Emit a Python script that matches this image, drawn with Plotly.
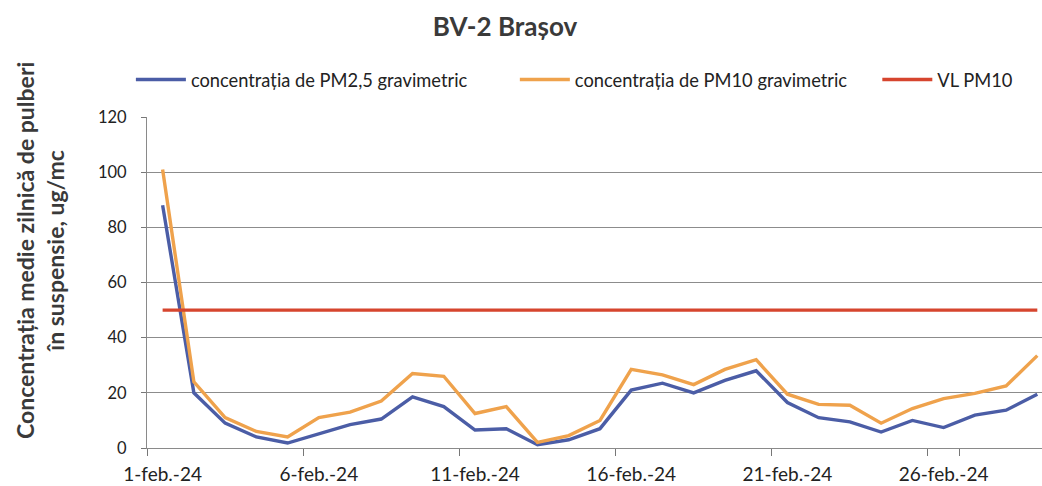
import plotly.graph_objects as go

days = ["1-feb.-24", "2-feb.-24", "3-feb.-24", "4-feb.-24", "5-feb.-24", "6-feb.-24",
        "7-feb.-24", "8-feb.-24", "9-feb.-24", "10-feb.-24", "11-feb.-24", "12-feb.-24",
        "13-feb.-24", "14-feb.-24", "15-feb.-24", "16-feb.-24", "17-feb.-24", "18-feb.-24",
        "19-feb.-24", "20-feb.-24", "21-feb.-24", "22-feb.-24", "23-feb.-24", "24-feb.-24",
        "25-feb.-24", "26-feb.-24", "27-feb.-24", "28-feb.-24", "29-feb.-24"]

pm25 = [88, 20, 9, 4, 1.8, 5, 8.5, 10.5, 18.5, 15, 6.5, 7, 1.2, 3, 7, 21, 23.5, 20,
        24.5, 28, 16.5, 11, 9.5, 5.8, 10, 7.4, 11.9, 13.7, 19.5]
pm10 = [101, 24, 11, 6, 4, 11, 13, 17, 27, 26, 12.5, 15, 2, 4.5, 10, 28.5, 26.5, 23,
        28.5, 32, 19.5, 15.8, 15.5, 9, 14.3, 17.9, 19.8, 22.5, 33.5]
vl_pm10 = [50] * len(days)

tick_labels = ["1-feb.-24", "6-feb.-24", "11-feb.-24", "16-feb.-24", "21-feb.-24", "26-feb.-24"]
y_ticks = [0, 20, 40, 60, 80, 100, 120]

BLUE = "#4B5DA6"
ORANGE = "#EFA24C"
RED = "#D6452E"
FONT = "Lato"

fig = go.Figure()
fig.add_trace(go.Scatter(x=days, y=pm25, mode="lines", name="concentrația de PM2,5 gravimetric",
                         line=dict(color=BLUE, width=3.4), legend="legend", showlegend=True))
fig.add_trace(go.Scatter(x=days, y=pm10, mode="lines", name="concentrația de PM10 gravimetric",
                         line=dict(color=ORANGE, width=3.4), legend="legend2", showlegend=True))
fig.add_trace(go.Scatter(x=days, y=vl_pm10, mode="lines", name="VL PM10",
                         line=dict(color=RED, width=3.4), legend="legend3", showlegend=True))

leg_common = dict(orientation="h", yanchor="middle", y=1.113, xanchor="left",
                  bgcolor="rgba(0,0,0,0)", font=dict(family=FONT, size=18.3, color="#222222"),
                  itemwidth=50)

fig.update_layout(
    width=1042, height=486,
    showlegend=True,
    margin=dict(l=147, r=0, t=117, b=38),
    paper_bgcolor="white", plot_bgcolor="white",
    title=dict(text="<b>BV-2 Brașov</b>", x=505 / 1042, xanchor="center", y=1 - 27 / 486,
               yanchor="middle", font=dict(family=FONT, size=26, color="#3a3a3a")),
    legend=dict(**leg_common, x=-0.018),
    legend2=dict(**leg_common, x=0.411),
    legend3=dict(**leg_common, x=0.816),
    xaxis=dict(type="category", range=[-0.5, 28.15], tickmode="array", tickvals=tick_labels,
               ticktext=tick_labels, tickson="boundaries", ticks="outside", ticklen=7,
               tickangle=0, automargin=False, ticklabelstandoff=9,
               tickcolor="#777777", showline=True, linecolor="#8a8a8a", linewidth=1,
               showgrid=False, tickfont=dict(family=FONT, size=19, color="#222222")),
    yaxis=dict(range=[0, 120], tickvals=y_ticks, ticks="outside", ticklen=5, tickcolor="#777777",
               showline=True, linecolor="#8a8a8a", linewidth=1, showgrid=True, automargin=False,
               gridcolor="#8c8c8c", gridwidth=1, zeroline=False, ticklabelstandoff=11,
               tickfont=dict(family=FONT, size=16.5, color="#222222")),
    annotations=[dict(text="<b>Concentrația medie zilnică de pulberi<br>în suspensie, ug/mc</b>",
                      textangle=-90, xref="paper", yref="paper", x=-(147 - 40) / 895,
                      y=(448 - 251) / 331, xanchor="center", yanchor="middle", showarrow=False,
                      font=dict(family=FONT, size=23, color="#3a3a3a"))],
)

fig.write_html("out.html", config={"displayModeBar": False},
               post_script="document.body.style.margin='0';")
